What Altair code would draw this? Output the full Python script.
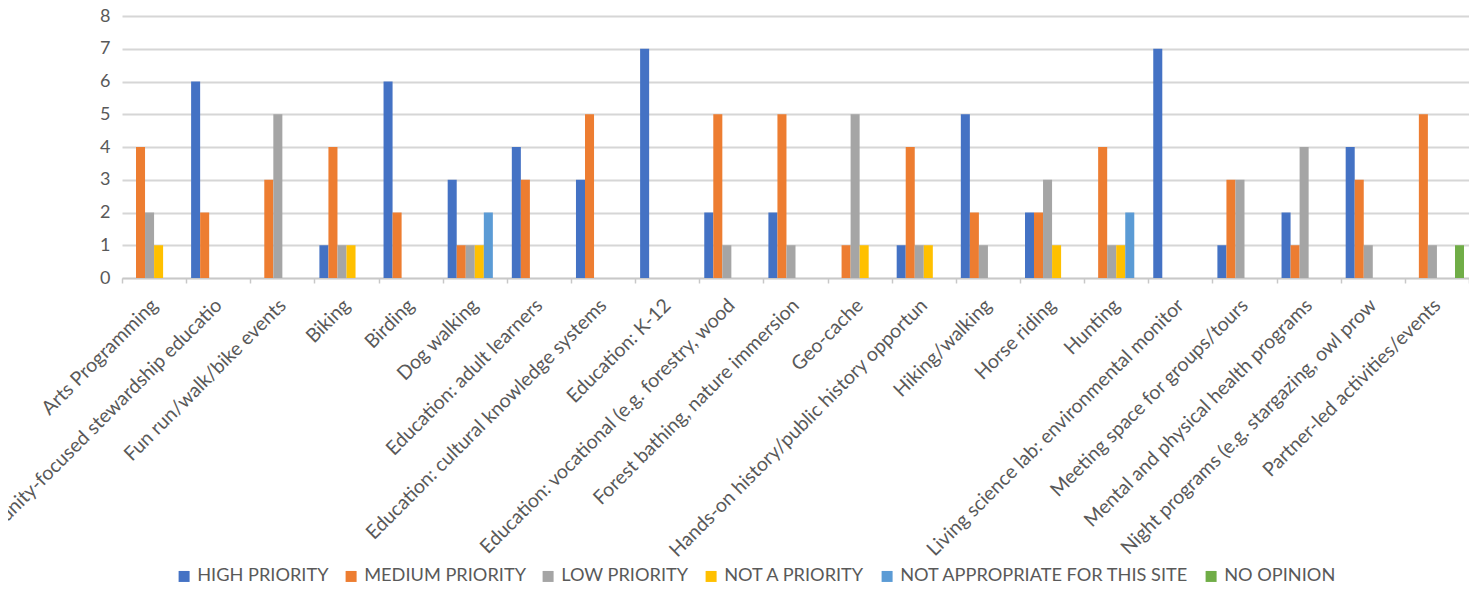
import altair as alt
import pandas as pd

categories = [
    "Arts Programming",
    "Community-focused stewardship educatio",
    "Fun run/walk/bike events",
    "Biking",
    "Birding",
    "Dog walking",
    "Education: adult learners",
    "Education: cultural knowledge systems",
    "Education: K-12",
    "Education: vocational (e.g. forestry, wood",
    "Forest bathing, nature immersion",
    "Geo-cache",
    "Hands-on history/public history opportun",
    "Hiking/walking",
    "Horse riding",
    "Hunting",
    "Living science lab: environmental monitor",
    "Meeting space for groups/tours",
    "Mental and physical health programs",
    "Night programs (e.g. stargazing, owl prow",
    "Partner-led activities/events",
]

series = [
    "HIGH PRIORITY",
    "MEDIUM PRIORITY",
    "LOW PRIORITY",
    "NOT A PRIORITY",
    "NOT APPROPRIATE FOR THIS SITE",
    "NO OPINION",
]

high_priority = [0, 6, 0, 1, 6, 3, 4, 3, 7, 2, 2, 0, 1, 5, 2, 0, 7, 1, 2, 4, 0]
medium_priority = [4, 2, 3, 4, 2, 1, 3, 5, 0, 5, 5, 1, 4, 2, 2, 4, 0, 3, 1, 3, 5]
low_priority = [2, 0, 5, 1, 0, 1, 0, 0, 0, 1, 1, 5, 1, 1, 3, 1, 0, 3, 4, 1, 1]
not_a_priority = [1, 0, 0, 1, 0, 1, 0, 0, 0, 0, 0, 1, 1, 0, 1, 1, 0, 0, 0, 0, 0]
not_appropriate = [0, 0, 0, 0, 0, 2, 0, 0, 0, 0, 0, 0, 0, 0, 0, 2, 0, 0, 0, 0, 0]
no_opinion = [0, 0, 0, 0, 0, 0, 0, 0, 0, 0, 0, 0, 0, 0, 0, 0, 0, 0, 0, 0, 1]

colors = ["#4472C4", "#ED7D31", "#A5A5A5", "#FFC000", "#5B9BD5", "#70AD47"]

y_ticks = [0, 1, 2, 3, 4, 5, 6, 7, 8]

values_by_series = [high_priority, medium_priority, low_priority,
                    not_a_priority, not_appropriate, no_opinion]

rows = []
for s, vals in zip(series, values_by_series):
    for c, v in zip(categories, vals):
        rows.append({"category": c, "series": s, "value": v})
df = pd.DataFrame(rows)

text_color = "#595959"
font = "Lato"

chart = alt.Chart(df).mark_bar(strokeWidth=0).encode(
    x=alt.X(
        "category:N",
        sort=categories,
        scale=alt.Scale(domain=categories, paddingInner=0, paddingOuter=0),
        axis=alt.Axis(
            title=None,
            labelAngle=-45,
            labelAlign="right",
            labelBaseline="middle",
            labelFont=font,
            labelFontSize=19.5,
            labelColor=text_color,
            labelPadding=19,
            labelLimit=600,
            labelOverlap=False,
            tickBand="extent",
            domainColor="#c8c8c8",
            domainWidth=1.5,
            tickColor="#c8c8c8",
            tickWidth=1.5,
            tickSize=5,
            grid=False,
        ),
    ),
    xOffset=alt.XOffset(
        "series:N",
        sort=series,
        scale=alt.Scale(domain=series, paddingInner=0, paddingOuter=0.55),
    ),
    y=alt.Y(
        "value:Q",
        scale=alt.Scale(domain=[0, 8], nice=False),
        axis=alt.Axis(
            title=None,
            values=y_ticks,
            format="d",
            labelFont=font,
            labelFontSize=18,
            labelColor=text_color,
            labelPadding=12,
            domain=False,
            ticks=False,
            grid=True,
            gridColor="#d6d6d6",
            gridWidth=1.8,
        ),
    ),
    color=alt.Color(
        "series:N",
        sort=series,
        scale=alt.Scale(domain=series, range=colors),
        legend=alt.Legend(
            title=None,
            orient="none",
            legendX=53,
            legendY=551,
            direction="horizontal",
            symbolType="square",
            symbolSize=121,
            symbolStrokeWidth=0,
            labelFont=font,
            labelFontSize=18.2,
            labelColor=text_color,
            labelOffset=4,
            columnPadding=13,
            labelLimit=500,
        ),
    ),
).properties(
    width=1347,
    height=262,
    autosize=alt.AutoSizeParams(type="none"),
    padding={"left": 114, "top": 8, "right": 0, "bottom": 306},
).configure_view(stroke=None)

chart.save("out.html", embed_options={"renderer": "svg", "actions": False})
